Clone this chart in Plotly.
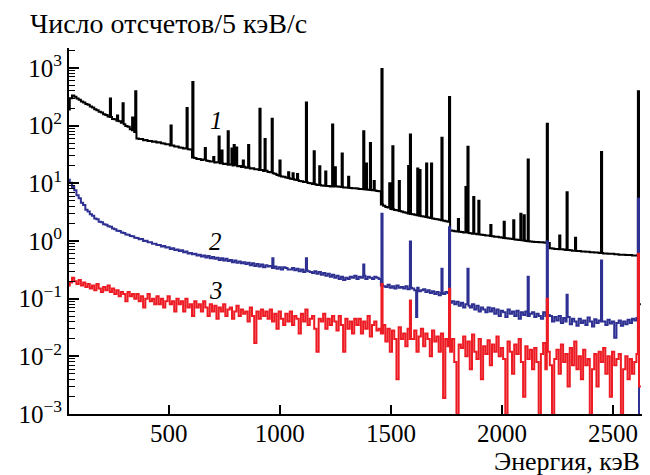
import plotly.graph_objects as go

# ---------------- data ----------------
energy = list(range(50, 2630, 10))  # bin centres, keV (10 keV bins)

black_cont = [
    190, 300, 335, 318, 296, 282, 262, 252, 238, 230,
    214, 207, 193, 186, 174, 169, 158, 153, 144, 141,
    131, 129, 122, 119, 112, 106, 99, 96, 87, 83,
    78, 60, 59, 58.5, 56, 56.5, 54, 54.5, 52.5, 53,
    51, 51.5, 49.5, 49, 47.5, 47.5, 45.5, 45.5, 43.5, 43.5,
    42, 41.5, 40, 40.5, 39, 38.5, 28, 27.5, 26.5, 26.5,
    25.5, 25.8, 24.8, 24.5, 23.8, 23.9, 23, 23.2, 22.3, 22.4,
    21.6, 21.8, 21, 21.2, 20.4, 20.5, 19.8, 19.9, 19.2, 19.3,
    18.6, 18.8, 18.1, 18.2, 17.5, 17.6, 17, 17.1, 16.4, 16.5,
    15.8, 15.6, 15, 14.6, 14, 13.6, 13.2, 13, 12.6, 12.4,
    12, 11.9, 11.5, 11.4, 11, 10.9, 10.6, 10.5, 10.1, 10,
    9.7, 9.6, 9.4, 9.4, 9.2, 9.1, 9.0, 8.95, 8.8, 8.8,
    8.9, 8.8, 8.7, 8.6, 8.5, 8.45, 8.4, 8.3, 8.25, 8.2,
    8.1, 8.0, 7.95, 7.9, 7.8, 7.75, 7.7, 7.6, 7.5, 7.4,
    7.3, 4.3, 4.1, 3.9, 3.8, 3.6, 3.55, 3.45, 3.4, 3.3,
    3.25, 3.15, 3.1, 3.0, 2.95, 2.9, 2.85, 2.8, 2.75, 2.7,
    2.65, 2.6, 2.55, 2.5, 2.45, 2.4, 2.38, 2.33, 2.3, 2.25,
    2.2, 2.15, 1.52, 1.5, 1.48, 1.46, 1.45, 1.43, 1.41, 1.4,
    1.38, 1.36, 1.34, 1.33, 1.31, 1.3, 1.28, 1.27, 1.25, 1.24,
    1.22, 1.21, 1.19, 1.18, 1.16, 1.15, 1.13, 1.12, 1.1, 1.09,
    1.08, 1.06, 1.05, 1.04, 1.03, 1.02, 1.0, 0.99, 0.98, 0.97,
    0.96, 0.96, 0.95, 0.95, 0.94, 0.93, 0.92, 0.75, 0.74, 0.73,
    0.73, 0.72, 0.72, 0.71, 0.7, 0.7, 0.69, 0.68, 0.68, 0.67,
    0.67, 0.66, 0.66, 0.65, 0.65, 0.64, 0.64, 0.63, 0.63, 0.62,
    0.62, 0.61, 0.61, 0.6, 0.6, 0.6, 0.59, 0.59, 0.58, 0.58,
    0.58, 0.57, 0.57, 0.57, 0.56, 0.56, 0.56, 0.08,
]
black_peak_e = [238, 270, 295, 338, 352, 511, 583, 609, 665, 703, 727, 740, 768, 785,
                795, 806, 836, 860, 911, 934, 966, 1001, 1040, 1060, 1080, 1120, 1155,
                1180, 1207, 1238, 1250, 1281, 1310, 1378, 1390, 1408, 1425, 1460, 1495,
                1509, 1538, 1580, 1588, 1621, 1631, 1661, 1683, 1730, 1764, 1804, 1838,
                1847, 1873, 1896, 1950, 2010, 2053, 2085, 2100, 2118, 2204, 2260, 2293,
                2331, 2448, 2614]
black_peak_v = [295, 150, 245, 138, 394, 101, 202, 571, 41, 28.5, 65, 37, 80, 40,
                46, 42, 25, 46, 197, 59, 132, 25, 15.5, 15, 14.5, 252, 36,
                19.7, 16, 105, 19, 33, 13, 80, 22, 50, 11, 960, 10,
                44, 11, 20, 70, 18, 17, 22, 22, 62, 314, 2.4, 8.6,
                43, 5.8, 5.0, 1.9, 2.15, 2.3, 2.97, 2.8, 26, 108, 1.24, 7.0,
                1.14, 35, 394]

blue_cont = [
    11.5, 10.2, 8.6, 7.6, 6.2, 5.5, 4.6, 4.2, 3.5, 3.25,
    2.9, 2.75, 2.45, 2.38, 2.15, 2.12, 1.95, 1.92, 1.8, 1.76,
    1.64, 1.6, 1.5, 1.49, 1.4, 1.38, 1.3, 1.29, 1.22, 1.21,
    1.14, 1.13, 1.07, 1.08, 1.0, 1.01, 0.95, 0.95, 0.9, 0.9,
    0.85, 0.85, 0.8, 0.82, 0.77, 0.78, 0.73, 0.75, 0.7, 0.71,
    0.67, 0.69, 0.64, 0.66, 0.61, 0.62, 0.59, 0.6, 0.56, 0.58,
    0.54, 0.56, 0.52, 0.55, 0.5, 0.53, 0.49, 0.51, 0.47, 0.5,
    0.46, 0.49, 0.45, 0.47, 0.43, 0.46, 0.42, 0.44, 0.41, 0.43,
    0.4, 0.42, 0.38, 0.41, 0.37, 0.4, 0.36, 0.39, 0.35, 0.38,
    0.36, 0.37, 0.34, 0.36, 0.33, 0.35, 0.32, 0.35, 0.34, 0.32,
    0.32, 0.34, 0.31, 0.33, 0.3, 0.32, 0.29, 0.31, 0.3, 0.29,
    0.28, 0.3, 0.27, 0.29, 0.26, 0.28, 0.25, 0.27, 0.24, 0.26,
    0.23, 0.25, 0.22, 0.24, 0.21, 0.23, 0.22, 0.24, 0.23, 0.25,
    0.22, 0.24, 0.23, 0.25, 0.22, 0.24, 0.23, 0.22, 0.24, 0.23,
    0.22, 0.17, 0.165, 0.16, 0.175, 0.155, 0.165, 0.15, 0.17, 0.155,
    0.16, 0.15, 0.165, 0.145, 0.155, 0.15, 0.14, 0.155, 0.135, 0.14,
    0.145, 0.13, 0.14, 0.125, 0.135, 0.12, 0.13, 0.115, 0.125, 0.12,
    0.13, 0.125, 0.085, 0.09, 0.08, 0.088, 0.075, 0.085, 0.07, 0.08,
    0.075, 0.07, 0.08, 0.065, 0.075, 0.06, 0.07, 0.065, 0.058, 0.07,
    0.06, 0.068, 0.055, 0.065, 0.05, 0.062, 0.058, 0.048, 0.065, 0.055,
    0.06, 0.05, 0.062, 0.045, 0.058, 0.052, 0.06, 0.05, 0.055, 0.058,
    0.048, 0.055, 0.05, 0.045, 0.058, 0.05, 0.052, 0.05, 0.04, 0.048,
    0.042, 0.05, 0.038, 0.046, 0.04, 0.048, 0.036, 0.045, 0.04, 0.034,
    0.045, 0.038, 0.042, 0.035, 0.047, 0.04, 0.033, 0.044, 0.038, 0.042,
    0.04, 0.04, 0.035, 0.043, 0.037, 0.04, 0.021, 0.038, 0.042, 0.034,
    0.04, 0.036, 0.043, 0.038, 0.045, 0.042, 0.046, 0.0005,
]
blue_peak_e = [969, 1120, 1378, 1460, 1588, 1616, 1730, 1764, 1847, 2118, 2204, 2293, 2448, 2614]
blue_peak_v = [0.5, 0.5, 0.39, 2.97, 0.98, 0.048, 0.33, 1.74, 0.33, 0.24, 0.98, 0.117, 0.46, 5.4]

red_cont = [
    0.17, 0.19, 0.23, 0.2, 0.18, 0.21, 0.17, 0.19, 0.16, 0.18,
    0.15, 0.17, 0.14, 0.18, 0.15, 0.13, 0.16, 0.14, 0.17, 0.13,
    0.15, 0.12, 0.14, 0.11, 0.13, 0.12, 0.09, 0.13, 0.11, 0.12,
    0.1, 0.12, 0.09, 0.11, 0.07, 0.1, 0.12, 0.09, 0.1, 0.08,
    0.11, 0.08, 0.1, 0.07, 0.09, 0.11, 0.08, 0.09, 0.06, 0.1,
    0.08, 0.09, 0.06, 0.1, 0.07, 0.08, 0.05, 0.09, 0.07, 0.08,
    0.06, 0.09, 0.07, 0.05, 0.08, 0.06, 0.075, 0.045, 0.07, 0.06,
    0.08, 0.05, 0.065, 0.07, 0.045, 0.06, 0.075, 0.05, 0.065, 0.055,
    0.06, 0.04, 0.07, 0.05, 0.017, 0.06, 0.045, 0.065, 0.05, 0.06,
    0.045, 0.065, 0.04, 0.055, 0.03, 0.06, 0.045, 0.035, 0.055, 0.04,
    0.06, 0.035, 0.05, 0.045, 0.025, 0.055, 0.04, 0.065, 0.035, 0.045,
    0.05, 0.03, 0.012, 0.045, 0.04, 0.055, 0.03, 0.045, 0.035, 0.05,
    0.04, 0.028, 0.05, 0.035, 0.012, 0.045, 0.03, 0.04, 0.025, 0.045,
    0.035, 0.045, 0.025, 0.04, 0.03, 0.05, 0.022, 0.035, 0.04, 0.028,
    0.03, 0.025, 0.035, 0.018, 0.03, 0.012, 0.028, 0.02, 0.004, 0.032,
    0.02, 0.025, 0.015, 0.03, 0.02, 0.02, 0.028, 0.012, 0.022, 0.03,
    0.015, 0.025, 0.02, 0.01, 0.028, 0.018, 0.022, 0.012, 0.025, 0.0019,
    0.02, 0.015, 0.012, 0.02, 0.008, 0.0005, 0.016, 0.014, 0.022, 0.01,
    0.018, 0.006, 0.024, 0.012, 0.009, 0.02, 0.004, 0.015, 0.011, 0.019,
    0.007, 0.016, 0.012, 0.022, 0.01, 0.014, 0.009, 0.0005, 0.018, 0.012,
    0.005, 0.016, 0.011, 0.02, 0.008, 0.002, 0.015, 0.009, 0.013, 0.006,
    0.014, 0.008, 0.0005, 0.011, 0.017, 0.006, 0.012, 0.007, 0.0005, 0.009,
    0.013, 0.005, 0.016, 0.008, 0.011, 0.003, 0.014, 0.007, 0.018, 0.006,
    0.01, 0.004, 0.013, 0.007, 0.009, 0.0005, 0.006, 0.011, 0.003, 0.012,
    0.008, 0.014, 0.005, 0.01, 0.002, 0.012, 0.007, 0.009, 0.011, 0.0005,
    0.006, 0.01, 0.004, 0.009, 0.005, 0.008, 0.011, 0.003,
]
red_peak_e = [1460, 1588, 1764, 2204, 2614]
red_peak_v = [0.18, 0.093, 0.148, 0.1, 0.6]

series_labels = ["1", "2", "3"]
x_ticks = [500, 1000, 1500, 2000, 2500]
y_title = "Число отсчетов/5 кэВ/с"
x_title = "Энергия, кэВ"


def build(cont, pe, pv, half=2.5):
    """Histogram step line: 10 keV continuum bins with narrow (5 keV) peak bins."""
    n = len(cont)

    def idx(x):
        return min(max(int((x - (energy[0] - 5)) // 10), 0), n - 1)

    intervals = [(e - half, e + half) for e in pe]
    segs = []
    for e, v in zip(energy, cont):
        left = e - 5.0
        if any(a < left < b for a, b in intervals):
            continue
        segs.append((left, v))
    for e, v in zip(pe, pv):
        segs.append((e - half, v))
        segs.append((e + half, cont[idx(e + half)]))
    segs.sort(key=lambda s: s[0])
    segs.append((energy[-1] + 5.0, cont[-1]))
    return [s[0] for s in segs], [s[1] for s in segs]


series = [
    (black_cont, black_peak_e, black_peak_v, "#000000"),
    (blue_cont, blue_peak_e, blue_peak_v, "#2E3192"),
    (red_cont, red_peak_e, red_peak_v, "#ED1C24"),
]

fig = go.Figure()
for cont, pe, pv, col in series:
    xs, ys = build(cont, pe, pv)
    fig.add_trace(go.Scatter(x=xs, y=ys, mode="lines",
                             line=dict(color=col, width=2, shape="hv"),
                             showlegend=False, hoverinfo="skip"))

major = [10.0 ** p for p in range(-3, 4)]
major_text = ["10<sup>%s</sup>" % (str(p) if p >= 0 else "\u2212" + str(-p)) for p in range(-3, 4)]
minor = [m * 10.0 ** p for p in range(-3, 4) for m in range(2, 10) if m * 10.0 ** p < 2300]

FONT = "Liberation Serif"
# The page body has an 8 px margin and content beyond x=642 is not shown,
# so the figure is sized to fit inside the visible region.
fig.update_layout(
    width=634, height=467,
    margin=dict(l=61, r=0, t=40, b=61),
    paper_bgcolor="white", plot_bgcolor="white",
    font=dict(family=FONT, size=25, color="black"),
)
fig.update_xaxes(
    range=[51.5, 2630], showline=True, linecolor="black", linewidth=2,
    ticks="inside", ticklen=9, tickwidth=1.5, tickcolor="black",
    tickmode="array", tickvals=x_ticks, ticktext=[str(v) for v in x_ticks],
    ticklabelstandoff=-4,
    showgrid=False, zeroline=False, tickfont=dict(family=FONT, size=25),
)
fig.update_yaxes(
    type="log", range=[-3, 3.347], showline=True, linecolor="black", linewidth=2,
    ticks="inside", ticklen=10, tickwidth=1.5, tickcolor="black",
    tickmode="array", tickvals=major, ticktext=major_text,
    minor=dict(ticks="inside", ticklen=6, tickwidth=1.2, tickcolor="black",
               tickmode="array", tickvals=minor, showgrid=False),
    showgrid=False, zeroline=False, tickfont=dict(family=FONT, size=25),
)

# series numbers
label_pos = [(716, 2.09), (712, -0.01), (712, -0.86)]
for txt, (lx, ly) in zip(series_labels, label_pos):
    fig.add_annotation(x=lx, y=ly, xref="x", yref="y", text="<i>%s</i>" % txt,
                       showarrow=False, font=dict(family=FONT, size=25, color="black"))

fig.add_annotation(x=-0.0716, y=1.066, xref="paper", yref="paper", text=y_title,
                   xanchor="left", yanchor="middle", showarrow=False,
                   font=dict(family=FONT, size=28, color="black"))
fig.add_annotation(x=1.0, y=-0.131, xref="paper", yref="paper", text=x_title,
                   xanchor="right", yanchor="middle", showarrow=False,
                   font=dict(family=FONT, size=26, color="black"))

fig.write_html("out.html")
